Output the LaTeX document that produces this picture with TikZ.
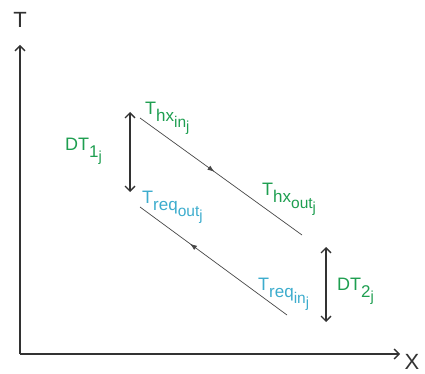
\documentclass[tikz,border=0pt]{standalone}
\usepackage{fontspec}
\setmainfont{Liberation Sans}
\usetikzlibrary{arrows.meta,decorations.markings}
\definecolor{lblgreen}{RGB}{30,158,80}
\definecolor{lblcyan}{RGB}{60,172,205}
\definecolor{axisgray}{RGB}{50,50,50}
\newcommand\subA[1]{\raisebox{-7pt}{\fontsize{17}{17}\selectfont #1}}
\newcommand\subB[1]{\raisebox{-6pt}{\fontsize{15.5}{15.5}\selectfont #1}}
\newcommand\subC[1]{\raisebox{-4pt}{\fontsize{14.5}{14.5}\selectfont #1}}
\tikzset{
  axis/.style={draw=axisgray,line width=1.8pt,-{Straight Barb[length=5pt,width=10pt,line width=1.3pt]}},
  dtarrow/.style={draw=axisgray,line width=1.8pt,{Straight Barb[length=5pt,width=10pt,line width=1.3pt]}-{Straight Barb[length=5pt,width=10pt,line width=1.3pt]}},
  flow/.style={draw=axisgray!90,line width=0.7pt},
  lbl/.style={inner sep=0pt,anchor=base west,font=\fontsize{18}{20}\selectfont},
  axlbl/.style={inner sep=0pt,font=\fontsize{22}{24}\selectfont,text=axisgray},
  midarrow/.style={postaction={decorate},decoration={markings,mark=at position #1 with {\arrow{Latex[length=7pt,width=5pt]}}}}
}
\begin{document}
\begin{tikzpicture}[x=1pt,y=-1pt]
\useasboundingbox (0,0) rectangle (425,374);
% axes
\coordinate (O) at (20,354);
\coordinate (Ttop) at (20,45);
\coordinate (Xend) at (400,354);
\draw[axis] (O) -- (Ttop);
\draw[axis] (O) -- (Xend);
\node[axlbl] (tlab) at (20,20) {T};
\node[axlbl] (xlab) at (412,362) {X};
% hot stream
\coordinate (hxin) at (140,118);
\coordinate (hxout) at (302,235);
\draw[flow,midarrow=0.46] (hxin) -- (hxout);
% required stream
\coordinate (reqin) at (287,315);
\coordinate (reqout) at (140,207);
\draw[flow,midarrow=0.66] (reqin) -- (reqout);
% DT arrows
\coordinate (d1a) at (130,112);
\coordinate (d1b) at (130,192);
\draw[dtarrow] (d1a) -- (d1b);
\coordinate (d2a) at (326,247);
\coordinate (d2b) at (326,322);
\draw[dtarrow] (d2a) -- (d2b);
% labels
\node[lbl,text=lblgreen] (Lhxin) at (145,115) {T\subA{hx\subB{in\subC{j}}}};
\node[lbl,text=lblgreen] (Ldt1) at (65,150) {DT\subA{1\subC{j}}};
\node[lbl,text=lblgreen] (Lhxout) at (262,195) {T\subA{hx\subB{out\subC{j}}}};
\node[lbl,text=lblcyan] (Lreqout) at (142,203) {T\subA{req\subB{out\subC{j}}}};
\node[lbl,text=lblcyan] (Lreqin) at (258,290) {T\subA{req\subB{in\subC{j}}}};
\node[lbl,text=lblgreen] (Ldt2) at (337,290) {DT\subA{2\subC{j}}};
\end{tikzpicture}
\end{document}
